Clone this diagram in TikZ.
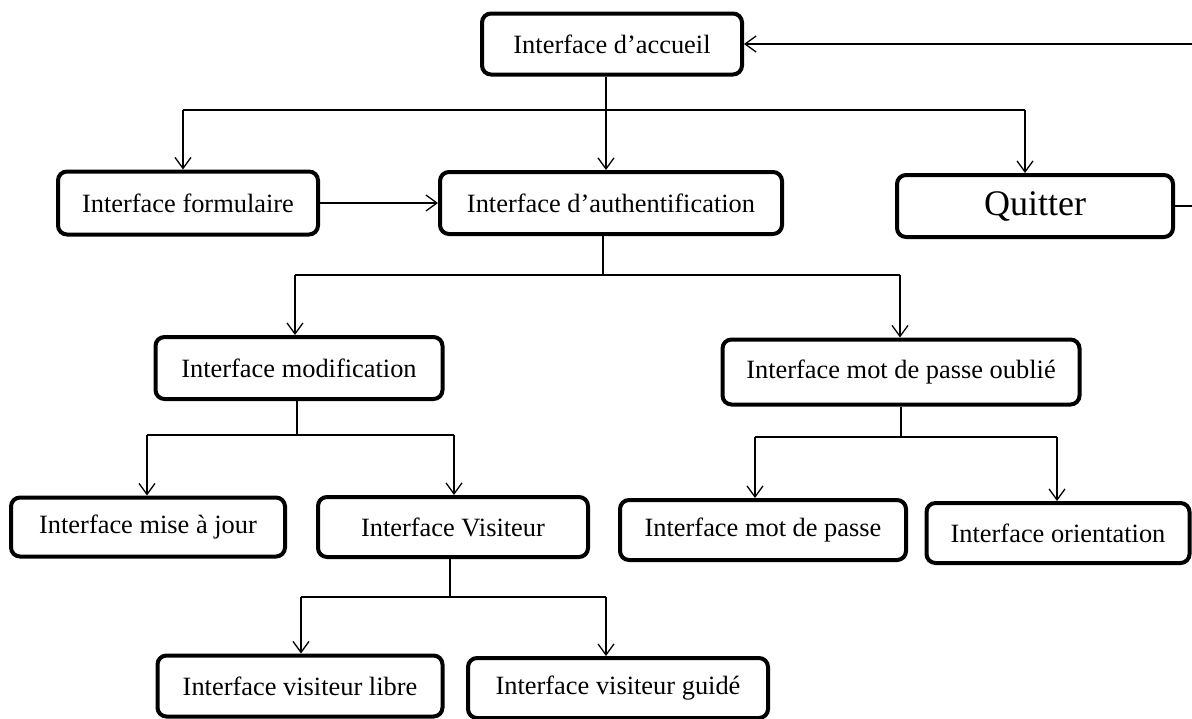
\documentclass[tikz,border=0pt]{standalone}
\usepackage{fontspec}
\setmainfont{Liberation Serif}
\usetikzlibrary{arrows.meta}
\tikzset{
  bx/.style 2 args={draw=black, line width=2pt, rounded corners=4.5pt, fill=white,
    minimum width=#1*0.5pt, minimum height=#2*0.5pt, inner sep=0pt,
    font=\fontsize{13.2}{15}\selectfont},
  conn/.style={line width=0.65pt},
  arr/.style={conn, -{Straight Barb[length=5.5pt,width=8pt,line width=0.65pt]}}
}
\begin{document}
\begin{tikzpicture}[x=0.5pt,y=-0.5pt]
\useasboundingbox (0,0) rectangle (1192,718);
% nodes
\node[bx={260}{61}] (accueil) at (612,44) {Interface d’accueil};
\node[bx={260}{63}] (formulaire) at (188,203) {Interface formulaire};
\node[bx={342}{62}] (auth) at (611,203) {Interface d’authentification};
\node[bx={276}{62}, font=\fontsize{18}{20}\selectfont] (quitter) at (1035,206) {Quitter};
\node[bx={287}{62}] (modif) at (299,368) {Interface modification};
\node[bx={357}{65}] (oublie) at (901,372) {Interface mot de passe oublié};
\node[bx={274}{59}] (maj) at (148,527) {Interface mise à jour};
\node[bx={270}{60}] (visiteur) at (453,527) {Interface Visiteur};
\node[bx={286}{60}] (mdp) at (763,530) {Interface mot de passe};
\node[bx={263}{60}] (orient) at (1058,533) {Interface orientation};
\node[bx={285}{61}] (libre) at (300,686) {Interface visiteur libre};
\node[bx={300}{60}] (guide) at (618,688) {Interface visiteur guidé};
% junction coordinates
\coordinate (m1) at (606,110); \coordinate (l1) at (183,110); \coordinate (r1) at (1025,110);
\coordinate (m2) at (603,275); \coordinate (l2) at (295,275); \coordinate (r2) at (900,275);
\coordinate (m3) at (297,435); \coordinate (l3) at (147,435); \coordinate (r3) at (454,435);
\coordinate (m4) at (901,437); \coordinate (l4) at (755,437); \coordinate (r4) at (1057,437);
\coordinate (m5) at (450,597); \coordinate (l5) at (301,597); \coordinate (r5) at (606,597);
\coordinate (ret) at (1196,206);
% branch 1
\draw[conn] (accueil.south -| m1) -- (m1);
\draw[conn] (l1) -- (r1);
\draw[arr] (m1) -- (auth.north -| m1);
\draw[arr] (l1) -- (formulaire.north -| l1);
\draw[arr] (r1) -- (quitter.north -| r1);
% formulaire -> auth
\draw[arr] (formulaire.east) -- (auth.west);
% quitter -> accueil
\draw[arr] (quitter.east) -- (ret) |- (accueil.east);
% branch 2
\draw[conn] (auth.south -| m2) -- (m2);
\draw[conn] (l2) -- (r2);
\draw[arr] (l2) -- (modif.north -| l2);
\draw[arr] (r2) -- (oublie.north -| r2);
% branch 3
\draw[conn] (modif.south -| m3) -- (m3);
\draw[conn] (l3) -- (r3);
\draw[arr] (l3) -- (maj.north -| l3);
\draw[arr] (r3) -- (visiteur.north -| r3);
% branch 4
\draw[conn] (oublie.south -| m4) -- (m4);
\draw[conn] (l4) -- (r4);
\draw[arr] (l4) -- (mdp.north -| l4);
\draw[arr] (r4) -- (orient.north -| r4);
% branch 5
\draw[conn] (visiteur.south -| m5) -- (m5);
\draw[conn] (l5) -- (r5);
\draw[arr] (l5) -- (libre.north -| l5);
\draw[arr] (r5) -- (guide.north -| r5);
\end{tikzpicture}
\end{document}
